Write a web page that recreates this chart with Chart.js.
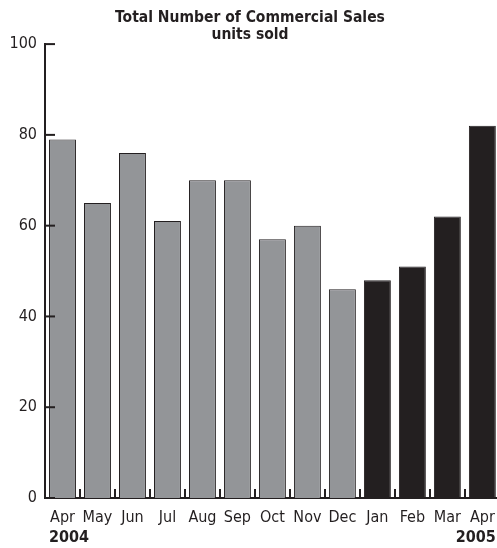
<!DOCTYPE html>
<html>
<head>
<meta charset="utf-8">
<script src="https://cdn.jsdelivr.net/npm/chart.js@4.4.1/dist/chart.umd.min.js"></script>
<style>
  html, body { margin: 0; padding: 0; overflow: hidden; background: #fff; }
  #wrap { width: 505px; height: 548px; }
</style>
</head>
<body>
<div id="wrap"><canvas id="myChart" width="505" height="548"></canvas></div>
<script>
// chart data
var months = ['Apr', 'May', 'Jun', 'Jul', 'Aug', 'Sep', 'Oct', 'Nov', 'Dec', 'Jan', 'Feb', 'Mar', 'Apr'];
var sales = [79, 65, 76, 61, 70, 70, 57, 60, 46, 48, 51, 62, 82];
var years = ['2004', '2005'];
var yTicks = [0, 20, 40, 60, 80, 100];

var ink = '#231f20';
var grey = '#939598';
var fontFam = '"Liberation Sans Narrow", "DejaVu Sans Condensed", "Roboto Condensed", Arial, sans-serif';
var barPct = 0.77;

// first 9 bars (2004) grey, the 2005 ones black
var fills = sales.map((v, i) => i < 9 ? grey : ink);

// inner ticks on both axes + year labels under the first and last month
const axisExtras = {
  id: 'axisExtras',
  afterDraw(chart) {
    const c = chart.ctx;
    const xs = chart.scales.x;
    const ys = chart.scales.y;
    c.save();
    c.strokeStyle = ink;
    c.lineWidth = 2;
    // y ticks pointing into the plot
    yTicks.forEach(t => {
      const py = ys.getPixelForValue(t);
      c.beginPath();
      c.moveTo(xs.left, py);
      c.lineTo(xs.left + 10, py);
      c.stroke();
    });
    // small ticks at category boundaries
    const step = xs.getPixelForValue(1) - xs.getPixelForValue(0);
    for (let i = 1; i < months.length; i++) {
      const px = Math.round(xs.getPixelForValue(i) - step / 2);
      c.beginPath();
      c.moveTo(px, ys.bottom);
      c.lineTo(px, ys.bottom - 9);
      c.stroke();
    }
    // years
    c.fillStyle = ink;
    c.font = 'bold 16px ' + fontFam;
    c.textBaseline = 'middle';
    const half = step * barPct / 2;
    c.textAlign = 'left';
    c.fillText(years[0], xs.getPixelForValue(0) - half, 538);
    c.textAlign = 'right';
    c.fillText(years[1], xs.getPixelForValue(months.length - 1) + half, 538);
    c.restore();
  }
};

const chart = new Chart(document.getElementById('myChart'), {
  type: 'bar',
  data: {
    labels: months,
    datasets: [{
      data: sales,
      backgroundColor: fills,
      borderColor: ink,
      borderWidth: 1,
      borderSkipped: 'bottom',
      barPercentage: barPct,
      categoryPercentage: 1
    }]
  },
  plugins: [axisExtras],
  options: {
    responsive: false,
    animation: false,
    layout: { padding: { left: 0, right: 5, top: 0, bottom: 0 } },
    plugins: {
      legend: { display: false },
      tooltip: { enabled: false },
      title: {
        display: true,
        text: ['Total Number of Commercial Sales', 'units sold'],
        color: ink,
        font: { family: fontFam, size: 15.5, weight: 'bold', lineHeight: 1.1 },
        padding: { top: 9, bottom: 1 }
      }
    },
    scales: {
      x: {
        offset: true,
        grid: { display: false, drawTicks: false },
        border: { display: true, color: ink, width: 2 },
        ticks: {
          color: ink,
          font: { family: fontFam, size: 16 },
          padding: 10,
          maxRotation: 0,
          autoSkip: false
        },
        afterFit(scale) { scale.height = 50; }
      },
      y: {
        min: 0,
        max: 100,
        grid: { display: false, drawTicks: false },
        border: { display: true, color: ink, width: 2 },
        ticks: {
          stepSize: 20,
          color: ink,
          font: { family: fontFam, size: 16 },
          padding: 8
        },
        afterFit(scale) { scale.width = 45; }
      }
    }
  }
});
</script>
</body>
</html>
